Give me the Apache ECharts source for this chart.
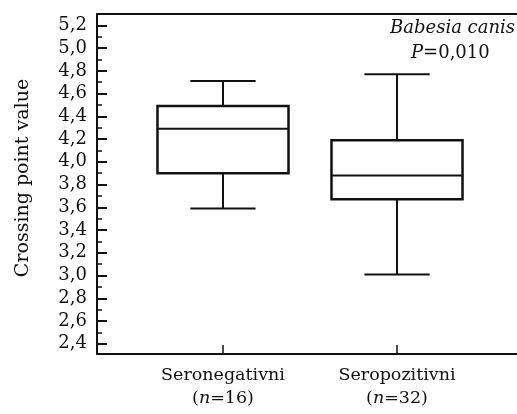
<!DOCTYPE html>
<html>
<head>
<meta charset="utf-8">
<script src="https://cdn.jsdelivr.net/npm/echarts@6/dist/echarts.min.js"></script>
<style>html,body{margin:0;padding:0;background:#fff;}#c{width:517px;height:414px;}</style>
</head>
<body>
<div id="c"></div>
<script>
const categories = ['Seronegativni', 'Seropozitivni'];
const groupN = [16, 32];
const whiskerLow = [3.59, 3.01];
const q1 = [3.90, 3.67];
const median = [4.29, 3.88];
const q3 = [4.49, 4.19];
const whiskerHigh = [4.71, 4.77];
const majorTicks = [2.4, 2.6, 2.8, 3.0, 3.2, 3.4, 3.6, 3.8, 4.0, 4.2, 4.4, 4.6, 4.8, 5.0, 5.2];
const minorTicks = [2.5, 2.7, 2.9, 3.1, 3.3, 3.5, 3.7, 3.9, 4.1, 4.3, 4.5, 4.7, 4.9, 5.1];
const categoryPositions = [1, 2];

const FONT = '"DejaVu Serif", "Liberation Serif", serif';
const INK = '#111';

const boxData = categories.map((c, i) => [categoryPositions[i], whiskerLow[i], q1[i], median[i], q3[i], whiskerHigh[i]]);

const chart = echarts.init(document.getElementById('c'), null, {renderer: 'canvas'});
const xMin = 0.276, xMax = 2.747, yMin = 2.31, yMax = 5.30;

chart.setOption({
  animation: false,
  backgroundColor: '#fff',
  grid: {left: 97, top: 14, right: -10, bottom: 60, outerBoundsMode: 'none'},
  xAxis: [{
    type: 'value', min: xMin, max: xMax, position: 'bottom',
    axisLine: {show: true, lineStyle: {color: INK, width: 2}},
    axisTick: {show: true, inside: true, length: 9, customValues: categoryPositions, lineStyle: {color: INK, width: 1.5}},
    axisLabel: {
      show: true, customValues: categoryPositions, margin: 10,
      fontFamily: FONT, fontSize: 17.5, color: INK, lineHeight: 23,
      formatter: function (v) {
        const i = Math.round(v) - 1;
        return categories[i] + '\n({it|n}=' + groupN[i] + ')';
      },
      rich: {it: {fontStyle: 'italic', fontFamily: FONT, fontSize: 17.5, color: INK, lineHeight: 23}}
    },
    splitLine: {show: false}
  }, {
    type: 'value', min: xMin, max: xMax, position: 'top',
    axisLine: {show: true, lineStyle: {color: INK, width: 2}},
    axisTick: {show: false}, axisLabel: {show: false}, splitLine: {show: false}
  }],
  yAxis: [{
    type: 'value', min: yMin, max: yMax, position: 'left',
    name: 'Crossing point value', nameLocation: 'middle', nameGap: 64,
    nameTextStyle: {fontFamily: FONT, fontSize: 19, color: INK, padding: [0, 0, 0, 12]},
    axisLine: {show: true, lineStyle: {color: INK, width: 2}},
    axisTick: {show: true, inside: true, length: 10, customValues: majorTicks, lineStyle: {color: INK, width: 2}},
    axisLabel: {
      show: true, customValues: majorTicks, margin: 10,
      fontFamily: FONT, fontSize: 18, color: INK,
      formatter: v => v.toFixed(1).replace('.', ',')
    },
    splitLine: {show: false}
  }, {
    type: 'value', min: yMin, max: yMax, position: 'left', offset: 0,
    axisLine: {show: false},
    axisTick: {show: true, inside: true, length: 5, customValues: minorTicks, lineStyle: {color: INK, width: 1.5}},
    axisLabel: {show: false}, splitLine: {show: false}
  }],
  series: [{
    type: 'custom',
    xAxisIndex: 0, yAxisIndex: 0,
    data: boxData,
    encode: {x: 0, y: [1, 2, 3, 4, 5]},
    renderItem: function (params, api) {
      const x = api.value(0);
      const lo = api.coord([x, api.value(1)]);
      const a = api.coord([x, api.value(2)]);
      const m = api.coord([x, api.value(3)]);
      const b = api.coord([x, api.value(4)]);
      const hi = api.coord([x, api.value(5)]);
      const boxW = api.size([0.753, 0])[0];
      const capW = api.size([0.375, 0])[0];
      const cx = lo[0];
      const ls = {stroke: INK, lineWidth: 2};
      return {
        type: 'group',
        children: [
          {type: 'line', shape: {x1: cx, y1: hi[1], x2: cx, y2: b[1]}, style: ls},
          {type: 'line', shape: {x1: cx, y1: a[1], x2: cx, y2: lo[1]}, style: ls},
          {type: 'line', shape: {x1: cx - capW / 2, y1: hi[1], x2: cx + capW / 2, y2: hi[1]}, style: ls},
          {type: 'line', shape: {x1: cx - capW / 2, y1: lo[1], x2: cx + capW / 2, y2: lo[1]}, style: ls},
          {type: 'rect', shape: {x: cx - boxW / 2, y: b[1], width: boxW, height: a[1] - b[1]}, style: {fill: '#fff', stroke: INK, lineWidth: 2.5}},
          {type: 'line', shape: {x1: cx - boxW / 2, y1: m[1], x2: cx + boxW / 2, y2: m[1]}, style: ls}
        ]
      };
    }
  }],
  graphic: [
    {type: 'text', right: 2, top: 19, style: {text: 'Babesia canis', font: 'italic 18px ' + FONT, fill: INK}},
    {type: 'text', left: 411, top: 44, style: {
      text: '{i|P}=0,010', font: '18px ' + FONT, fill: INK,
      rich: {i: {fontStyle: 'italic', fontFamily: FONT, fontSize: 18, fill: INK}}
    }}
  ]
});
</script>
</body>
</html>
